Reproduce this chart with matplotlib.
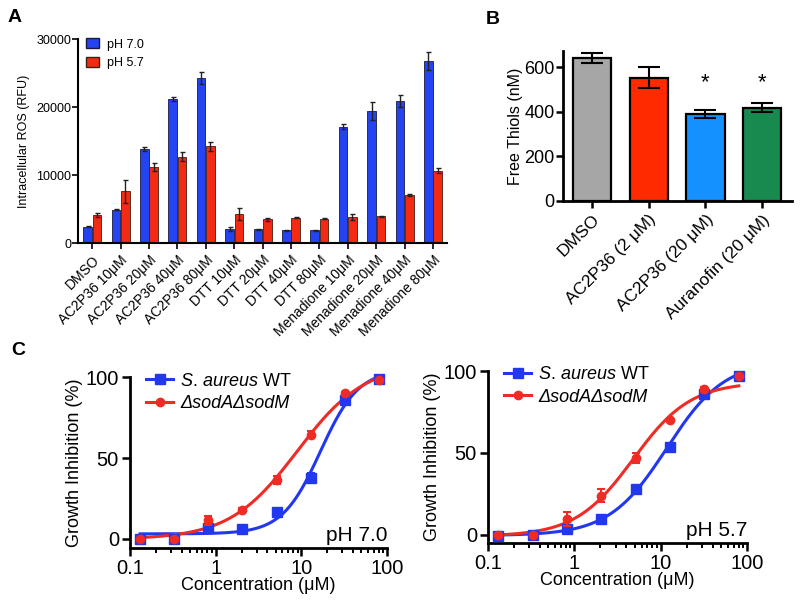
import numpy as np
import matplotlib
matplotlib.use("Agg")
import matplotlib.pyplot as plt
from matplotlib.patches import Patch
from matplotlib.lines import Line2D
from matplotlib.ticker import LogLocator, FixedLocator, FixedFormatter, NullFormatter

plt.rcParams['font.family'] = ['Liberation Sans', 'DejaVu Sans']
plt.rcParams['mathtext.fontset'] = 'custom'
plt.rcParams['mathtext.rm'] = 'Liberation Sans'
plt.rcParams['mathtext.it'] = 'Liberation Sans:italic'

# ---------------- Panel A data ----------------
a_categories = ["DMSO", "AC2P36 10μM", "AC2P36 20μM", "AC2P36 40μM", "AC2P36 80μM",
                "DTT 10μM", "DTT 20μM", "DTT 40μM", "DTT 80μM",
                "Menadione 10μM", "Menadione 20μM", "Menadione 40μM", "Menadione 80μM"]
a_ph70 = [2400, 4900, 13800, 21200, 24300, 2100, 2000, 1900, 1900, 17100, 19450, 20900, 26800]
a_ph70_err = [100, 100, 300, 250, 900, 300, 60, 60, 60, 400, 1300, 900, 1300]
a_ph57 = [4100, 7600, 11200, 12700, 14200, 4300, 3500, 3700, 3600, 3800, 3950, 7050, 10650]
a_ph57_err = [300, 1700, 600, 700, 600, 900, 200, 80, 80, 450, 80, 200, 400]

# ---------------- Panel B data ----------------
b_categories = ["DMSO", "AC2P36 (2 μM)", "AC2P36 (20 μM)", "Auranofin (20 μM)"]
b_values = [639, 553, 389, 418]
b_err = [22, 47, 18, 21]
b_signif = ["", "", "*", "*"]

# ---------------- Panel C data ----------------
c_conc = [0.131, 0.328, 0.819, 2.048, 5.12, 12.8, 32.0, 80.0]
c_wt_70 = [0.0, 0.0, 6.5, 6.0, 16.5, 38.0, 86.0, 98.6]
c_wt_70_err = [0.5, 0.5, 1.0, 0.8, 1.5, 2.5, 2.0, 1.0]
c_mut_70 = [0.0, 0.0, 11.5, 18.0, 36.5, 64.5, 90.0, 98.0]
c_mut_70_err = [0.5, 0.5, 3.0, 1.0, 2.5, 2.0, 1.0, 1.0]
c_wt_57 = [-0.5, 0.0, 3.7, 9.7, 28.0, 53.5, 86.0, 97.0]
c_wt_57_err = [0.5, 0.5, 1.0, 1.0, 1.0, 1.5, 1.5, 1.0]
c_mut_57 = [0.0, 0.0, 9.7, 24.0, 47.0, 70.0, 89.0, 97.0]
c_mut_57_err = [0.5, 0.5, 4.5, 4.0, 3.0, 1.0, 1.5, 1.0]
# fitted plateau (top) of the pH 5.7 mutant curve
c_mut_57_top = 93.3

BLUE_A = '#2443f2'
RED_A = '#f42a12'
BLUE_C = '#2238ee'
RED_C = '#ee2b25'

fig = plt.figure(figsize=(8, 6.1), dpi=100)

# ======================= Panel A =======================
axA = fig.add_axes([0.0975, 0.6016, 0.4615, 0.3344])
x = np.arange(len(a_categories))
w = 0.30
ekw = dict(ecolor='#222222', elinewidth=1.0, capsize=1.8, capthick=1.0)
axA.bar(x - 0.165, a_ph70, w, yerr=a_ph70_err, color=BLUE_A, edgecolor='#1a1a40',
        linewidth=0.6, error_kw=ekw, label='pH 7.0')
axA.bar(x + 0.165, a_ph57, w, yerr=a_ph57_err, color=RED_A, edgecolor='#402010',
        linewidth=0.6, error_kw=ekw, label='pH 5.7')
axA.set_xlim(-0.5, 12.5)
axA.set_ylim(0, 30000)
axA.set_yticks([0, 10000, 20000, 30000])
axA.set_xticks(x)
axA.set_xticklabels(a_categories, rotation=45, ha='right', va='top',
                    rotation_mode='anchor', fontsize=10)
axA.tick_params(axis='y', labelsize=9, width=1.2, length=4, pad=1)
axA.tick_params(axis='x', width=1.2, length=4, pad=3)
for s in ['top', 'right']:
    axA.spines[s].set_visible(False)
for s in ['left', 'bottom']:
    axA.spines[s].set_linewidth(1.5)
axA.set_ylabel('Intracellular ROS (RFU)', fontsize=9, labelpad=4)
axA.legend(handles=[Patch(facecolor=BLUE_A, edgecolor='#1a1a40', label='pH 7.0'),
                    Patch(facecolor=RED_A, edgecolor='#402010', label='pH 5.7')],
           loc='upper left', bbox_to_anchor=(-0.01, 1.06), frameon=False,
           fontsize=9, handlelength=1.1, handleheight=0.9, handletextpad=0.6,
           labelspacing=0.5)

# ======================= Panel B =======================
axB = fig.add_axes([0.704, 0.6705, 0.286, 0.246])
xb = np.arange(len(b_categories))
b_colors = ['#a6a6a6', '#ff2a00', '#1592ff', '#188a50']
axB.bar(xb, b_values, 0.67, yerr=b_err, color=b_colors, edgecolor='black',
        linewidth=1.6, error_kw=dict(ecolor='black', elinewidth=1.5, capsize=8, capthick=1.5))
for xi, v, e, s in zip(xb, b_values, b_err, b_signif):
    if s:
        axB.text(xi, 530, s, ha='center', va='center', fontsize=16)
axB.set_xlim(-0.5, 3.52)
axB.set_ylim(0, 672)
axB.set_yticks([0, 200, 400, 600])
axB.set_xticks(xb)
axB.set_xticklabels(b_categories, rotation=45, ha='right', va='top',
                    rotation_mode='anchor', fontsize=12.5)
axB.tick_params(axis='y', labelsize=13, width=1.8, length=5, pad=1)
axB.tick_params(axis='x', width=1.8, length=5, pad=3)
for s in ['top', 'right']:
    axB.spines[s].set_visible(False)
for s in ['left', 'bottom']:
    axB.spines[s].set_linewidth(2)
axB.set_ylabel('Free Thiols (nM)', fontsize=11.5, labelpad=1)


# ======================= Panel C =======================
def fit_4pl(conc, resp, top=None):
    lx = np.log10(np.asarray(conc))
    y = np.asarray(resp)
    logec = np.linspace(-1, 2.2, 321)[:, None, None]
    hill = np.linspace(0.5, 4.0, 141)[None, :, None]
    f = 1.0 / (1.0 + 10 ** ((logec - lx[None, None, :]) * hill))
    if top is None:
        fm = f.mean(axis=2, keepdims=True)
        ym = y.mean()
        d = ((f - fm) * (y - ym)).sum(axis=2, keepdims=True) / ((f - fm) ** 2).sum(axis=2, keepdims=True)
        b = ym - d * fm
    else:
        g = 1.0 - f
        b = ((y - top * f) * g).sum(axis=2, keepdims=True) / (g ** 2).sum(axis=2, keepdims=True)
        d = top - b
    sse = ((b + d * f - y) ** 2).sum(axis=2)
    i, j = np.unravel_index(np.argmin(sse), sse.shape)
    return b[i, j, 0], d[i, j, 0], logec[i, 0, 0], hill[0, j, 0]


def curve(params, xs):
    b, d, le, h = params
    return b + d / (1.0 + 10 ** ((le - np.log10(xs)) * h))


def draw_c(ax, wt, wt_err, mut, mut_err, phlabel, mut_top=None):
    xs = np.logspace(np.log10(min(c_conc)), np.log10(max(c_conc)), 300)
    ax.plot(xs, curve(fit_4pl(c_conc, wt), xs), color=BLUE_C, lw=2.2, zorder=2)
    ax.plot(xs, curve(fit_4pl(c_conc, mut, mut_top), xs), color=RED_C, lw=2.2, zorder=3)
    ax.errorbar(c_conc, wt, yerr=wt_err, fmt='s', color=BLUE_C, ms=6.5,
                capsize=3, elinewidth=1.5, capthick=1.5, zorder=4, clip_on=False)
    ax.errorbar(c_conc, mut, yerr=mut_err, fmt='o', color=RED_C, ms=6,
                capsize=3, elinewidth=1.5, capthick=1.5, zorder=5, clip_on=False)
    ax.set_xscale('log')
    ax.set_xlim(0.1, 100)
    ax.xaxis.set_major_locator(FixedLocator([0.1, 1, 10, 100]))
    ax.xaxis.set_major_formatter(FixedFormatter(['0.1', '1', '10', '100']))
    ax.xaxis.set_minor_locator(LogLocator(base=10, subs=np.arange(2, 10), numticks=20))
    ax.xaxis.set_minor_formatter(NullFormatter())
    ax.set_yticks([0, 50, 100])
    ax.tick_params(axis='both', which='major', labelsize=14.5, width=1.8, length=6, pad=2)
    ax.tick_params(axis='x', which='minor', width=1.4, length=3.5)
    for s in ['top', 'right']:
        ax.spines[s].set_visible(False)
    for s in ['left', 'bottom']:
        ax.spines[s].set_linewidth(2)
    ax.set_xlabel('Concentration (μM)', fontsize=13, labelpad=-1)
    ax.set_ylabel('Growth Inhibition (%)', fontsize=13, labelpad=2)
    ax.text(1.0, 0.04, phlabel, transform=ax.transAxes, ha='right', va='baseline',
            fontsize=15)
    handles = [Line2D([], [], color=BLUE_C, marker='s', ms=6.5, lw=2.2,
                      label=r'$\it{S.\,aureus}$ WT'),
               Line2D([], [], color=RED_C, marker='o', ms=6, lw=2.2,
                      label='ΔsodAΔsodM')]
    leg = ax.legend(handles=handles, loc='upper left', bbox_to_anchor=(0.02, 1.09),
                    frameon=False, fontsize=13, handlelength=1.5, handletextpad=0.4,
                    labelspacing=0.3, borderaxespad=0.2)
    leg.get_texts()[1].set_fontstyle('italic')


axC1 = fig.add_axes([0.1625, 0.1016, 0.3215, 0.280])
axC1.set_ylim(-5.6, 100)
draw_c(axC1, c_wt_70, c_wt_70_err, c_mut_70, c_mut_70_err, 'pH 7.0')

axC2 = fig.add_axes([0.61, 0.1098, 0.324, 0.282])
axC2.set_ylim(-4.9, 100)
draw_c(axC2, c_wt_57, c_wt_57_err, c_mut_57, c_mut_57_err, 'pH 5.7', c_mut_57_top)

# panel letters
fig.text(0.010, 0.985, 'A', fontsize=14, fontweight='bold', va='top')
fig.text(0.607, 0.982, 'B', fontsize=14, fontweight='bold', va='top')
fig.text(0.014, 0.440, 'C', fontsize=14, fontweight='bold', va='top')

fig.savefig('out.png', dpi=100)
